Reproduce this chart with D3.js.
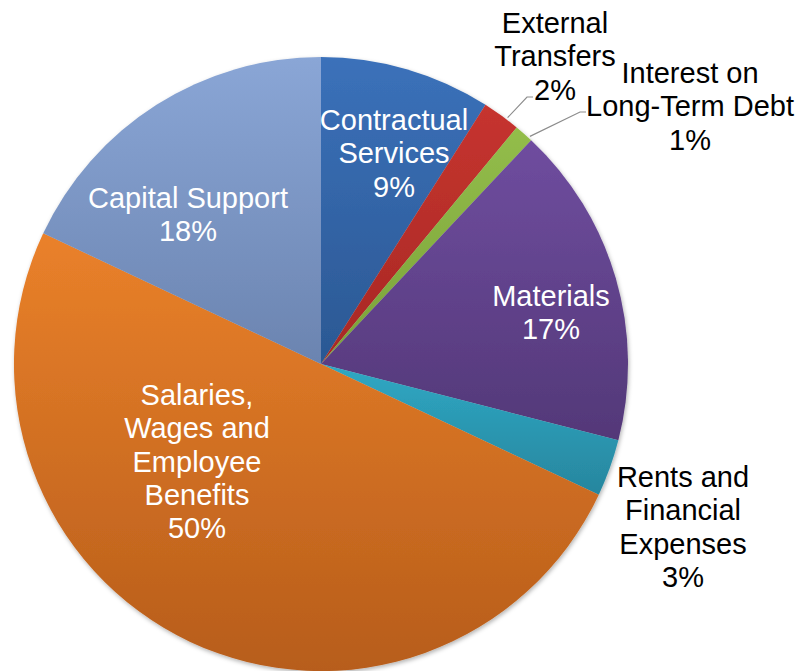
<!DOCTYPE html>
<html>
<head>
<meta charset="utf-8">
<script src="https://cdn.jsdelivr.net/npm/d3@7/dist/d3.min.js"></script>
<style>
  html, body { margin: 0; padding: 0; background: #ffffff; }
  svg { display: block; }
  text { font-family: "Liberation Sans", Arial, sans-serif; }
</style>
</head>
<body>
<svg id="chart" width="799" height="671"></svg>
<script>
// Expenditure shares, clockwise from 12 o'clock
const categories = [
  "Contractual Services",
  "External Transfers",
  "Interest on Long-Term Debt",
  "Materials",
  "Rents and Financial Expenses",
  "Salaries, Wages and Employee Benefits",
  "Capital Support"
];
const shares = [9, 2, 1, 17, 3, 50, 18];

// Label text broken into lines
const labelLines = [
  ["Contractual", "Services"],
  ["External", "Transfers"],
  ["Interest on", "Long-Term Debt"],
  ["Materials"],
  ["Rents and", "Financial", "Expenses"],
  ["Salaries,", "Wages and", "Employee", "Benefits"],
  ["Capital Support"]
];

// Slice fill gradients (top colour, bottom colour)
const sliceTop    = ["#3b71ba", "#c6342f", "#93bd4a", "#6f4d9f", "#2fa8c4", "#ea812a", "#8aa6d6"];
const sliceBottom = ["#2b5893", "#a72824", "#7aa23a", "#533878", "#27869e", "#b75d1b", "#6b84b0"];

// Layout
const cx = 321, cy = 364, radius = 307;
const fontSize = 29, lineHeight = 33.3;

// Label anchors: centre x and first baseline y; outside labels get a leader line
const labelLayout = [
  { x: 394, y: 130, inside: true },
  { x: 555, y: 33,  inside: false, tick: [527, 97],  tickLen: 6 },
  { x: 690, y: 83,  inside: false, tick: [580, 112], tickLen: 6 },
  { x: 551, y: 306, inside: true },
  { x: 683, y: 487, inside: false },
  { x: 197, y: 405, inside: true },
  { x: 188, y: 208, inside: true }
];

const data = categories.map((c, i) => ({ name: c, value: shares[i], i }));

const svg = d3.select("#chart");
const defs = svg.append("defs");

const shadow = defs.append("filter")
  .attr("id", "pieShadow")
  .attr("x", "-10%").attr("y", "-10%")
  .attr("width", "120%").attr("height", "120%");
shadow.append("feDropShadow")
  .attr("dx", 1).attr("dy", 2)
  .attr("stdDeviation", 2.2)
  .attr("flood-color", "#000")
  .attr("flood-opacity", 0.3);

data.forEach(d => {
  const g = defs.append("linearGradient")
    .attr("id", "grad" + d.i)
    .attr("x1", 0).attr("y1", 0).attr("x2", 0).attr("y2", 1);
  g.append("stop").attr("offset", "0%").attr("stop-color", sliceTop[d.i]);
  g.append("stop").attr("offset", "100%").attr("stop-color", sliceBottom[d.i]);
});

const pie = d3.pie().value(d => d.value).sort(null);
const arc = d3.arc().innerRadius(0).outerRadius(radius);
const arcs = pie(data);

const g = svg.append("g").attr("transform", `translate(${cx},${cy})`);

g.append("g")
  .attr("filter", "url(#pieShadow)")
  .selectAll("path")
  .data(arcs)
  .join("path")
  .attr("d", arc)
  .attr("fill", d => `url(#grad${d.data.i})`);

// Leader lines for the two thin slices, ending just past the rim at mid-angle
const edgeArc = d3.arc().innerRadius(radius + 2).outerRadius(radius + 2);
arcs.forEach(a => {
  const lay = labelLayout[a.data.i];
  if (!lay.tick) return;
  const mid = (a.startAngle + a.endAngle) / 2 + 0.02;
  const ex = Math.sin(mid) * (radius + 2), ey = -Math.cos(mid) * (radius + 2);
  const tx = lay.tick[0] - cx, ty = lay.tick[1] - cy;
  g.append("polyline")
    .attr("points", `${tx + lay.tickLen},${ty} ${tx},${ty} ${ex},${ey}`)
    .attr("fill", "none")
    .attr("stroke", "#8c8c8c")
    .attr("stroke-width", 1.2);
});

// Labels: category lines followed by the percentage
const labels = svg.append("g");
arcs.forEach(a => {
  const d = a.data;
  const lay = labelLayout[d.i];
  const lines = labelLines[d.i].concat([d.value + "%"]);
  const t = labels.append("text")
    .attr("text-anchor", "middle")
    .attr("font-size", fontSize)
    .attr("fill", lay.inside ? "#ffffff" : "#000000");
  lines.forEach((ln, k) => {
    t.append("tspan")
      .attr("x", lay.x)
      .attr("y", lay.y + k * lineHeight)
      .text(ln);
  });
});
</script>
</body>
</html>
